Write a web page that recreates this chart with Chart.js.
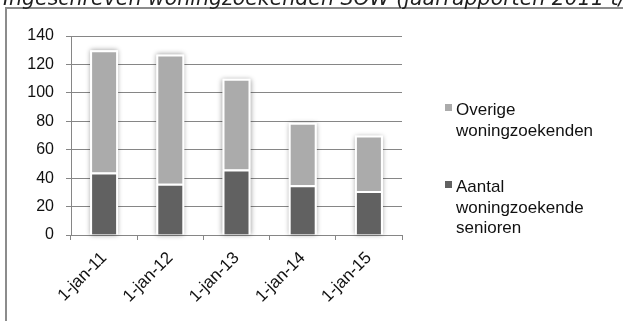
<!DOCTYPE html>
<html>
<head>
<meta charset="utf-8">
<script src="https://cdn.jsdelivr.net/npm/chart.js@4.4.1/dist/chart.umd.min.js"></script>
<style>
  html, body { margin: 0; padding: 0; background: #fff; overflow: hidden; }
  #wrap { position: relative; width: 623px; height: 321px; }
</style>
</head>
<body>
<div id="wrap"><canvas id="c" width="623" height="321"></canvas></div>
<script>
// Registered home seekers per reference date
const titleText = 'Ingeschreven woningzoekenden SOW (jaarrapporten 2011 t/m 2015)';
const categories = ['1-jan-11', '1-jan-12', '1-jan-13', '1-jan-14', '1-jan-15'];
const seniorCounts = [44, 36, 46, 35, 31];
const otherCounts = [86, 91, 64, 44, 39];
const seriesNames = ['Aantal woningzoekende senioren', 'Overige woningzoekenden'];
const seriesColors = ['#616161', '#ababab'];
const yMin = 0, yMax = 140, yStep = 20;

const FONT = '"Liberation Sans", Arial, sans-serif';

// Background, outer frame and the (partly clipped) heading
const frameAndTitle = {
  id: 'frameAndTitle',
  beforeDraw(chart) {
    const ctx = chart.ctx;
    ctx.save();
    ctx.fillStyle = '#fff';
    ctx.fillRect(0, 0, chart.width, chart.height);
    ctx.strokeStyle = '#8c8c8c';
    ctx.lineWidth = 2;
    ctx.beginPath();
    ctx.moveTo(6, chart.height + 2);
    ctx.lineTo(6, 8);
    ctx.lineTo(chart.width + 2, 8);
    ctx.stroke();
    ctx.fillStyle = '#1f1f1f';
    ctx.font = 'italic 20.5px "DejaVu Sans", Verdana, sans-serif';
    ctx.textAlign = 'left';
    ctx.textBaseline = 'alphabetic';
    ctx.fillText(titleText, 3, 5);
    ctx.restore();
  }
};

// Soft halo behind each stacked column
const barGlow = {
  id: 'barGlow',
  beforeDatasetsDraw(chart) {
    const ctx = chart.ctx;
    const metas = chart.getSortedVisibleDatasetMetas();
    if (!metas.length) return;
    ctx.save();
    ctx.shadowColor = 'rgba(0,0,0,0.4)';
    ctx.shadowBlur = 5;
    ctx.fillStyle = '#fff';
    metas[0].data.forEach((bar, i) => {
      let top = bar.y, bottom = bar.base;
      metas.forEach(m => { const b = m.data[i]; top = Math.min(top, b.y, b.base); bottom = Math.max(bottom, b.y, b.base); });
      ctx.fillRect(bar.x - bar.width / 2, top, bar.width, bottom - top);
    });
    ctx.restore();
  }
};

// Legend at the right with wrapped series names (listed top stack first)
function wrapText(ctx, text, maxWidth) {
  const words = text.split(' ');
  const lines = [];
  let cur = '';
  words.forEach(w => {
    const test = cur ? cur + ' ' + w : w;
    if (cur && ctx.measureText(test).width > maxWidth) { lines.push(cur); cur = w; }
    else cur = test;
  });
  if (cur) lines.push(cur);
  return lines;
}
const sideLegend = {
  id: 'sideLegend',
  afterDraw(chart) {
    const ctx = chart.ctx;
    ctx.save();
    ctx.font = '17px ' + FONT;
    ctx.textAlign = 'left';
    ctx.textBaseline = 'alphabetic';
    const order = chart.data.datasets.map((d, i) => i).reverse();
    const tops = [115, 192];
    order.forEach((di, k) => {
      const ds = chart.data.datasets[di];
      const lines = wrapText(ctx, ds.label, 160);
      const base = tops[k];
      ctx.fillStyle = ds.backgroundColor;
      ctx.fillRect(445, base - 11, 7, 7);
      ctx.fillStyle = '#111';
      lines.forEach((ln, j) => ctx.fillText(ln, 456, base + j * 20.5));
    });
    ctx.restore();
  }
};

new Chart(document.getElementById('c'), {
  type: 'bar',
  data: {
    labels: categories,
    datasets: [
      { label: seriesNames[0], data: seniorCounts, backgroundColor: seriesColors[0] },
      { label: seriesNames[1], data: otherCounts, backgroundColor: seriesColors[1] }
    ]
  },
  options: {
    responsive: false,
    animation: false,
    devicePixelRatio: 1,
    layout: { padding: { left: 0, right: 221, top: 36, bottom: 0 } },
    datasets: {
      bar: {
        categoryPercentage: 1,
        barPercentage: 0.423,
        borderColor: '#ffffff',
        borderWidth: 2,
        borderSkipped: 'start'
      }
    },
    plugins: {
      legend: { display: false },
      title: { display: false },
      tooltip: { enabled: false }
    },
    scales: {
      x: {
        stacked: true,
        offset: true,
        afterFit(scale) { scale.height = 86; },
        grid: {
          offset: true,
          drawOnChartArea: false,
          drawTicks: true,
          tickLength: 5,
          tickColor: '#868686',
          lineWidth: 1
        },
        border: { display: true, color: '#868686', width: 1 },
        ticks: {
          minRotation: 45,
          maxRotation: 45,
          autoSkip: false,
          padding: 8,
          color: '#111',
          font: { family: FONT, size: 17 }
        }
      },
      y: {
        stacked: true,
        min: yMin,
        max: yMax,
        afterFit(scale) { scale.width = 71; },
        grid: {
          color: '#868686',
          lineWidth: 1,
          drawTicks: true,
          tickLength: 5,
          tickColor: '#868686'
        },
        border: { display: true, color: '#868686', width: 1 },
        ticks: {
          stepSize: yStep,
          padding: 12,
          color: '#111',
          font: { family: FONT, size: 16 }
        }
      }
    }
  },
  plugins: [frameAndTitle, barGlow, sideLegend]
});
</script>
</body>
</html>
